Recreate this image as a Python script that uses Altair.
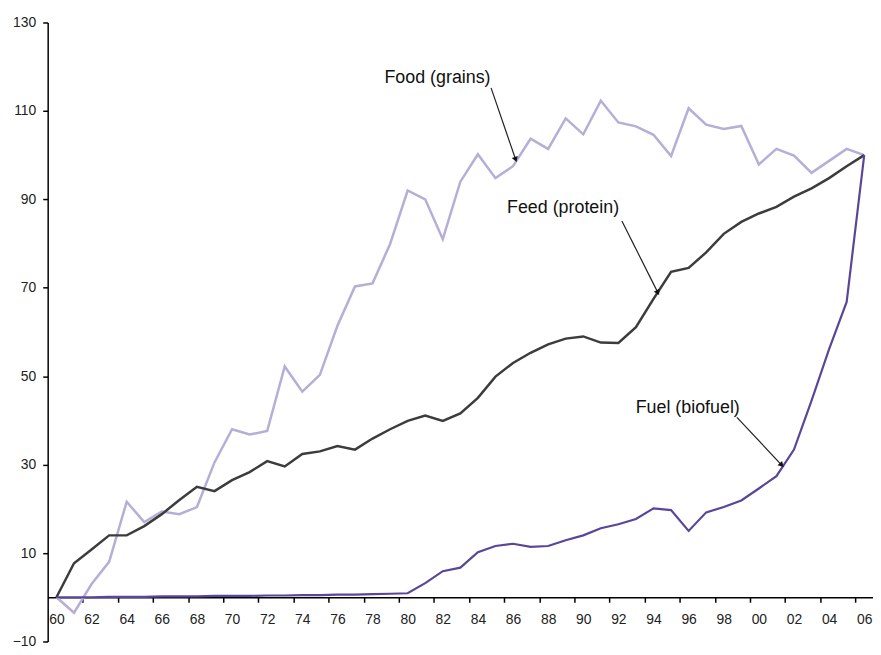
import altair as alt
import pandas as pd

# ---------------- data ----------------
years = list(range(1960, 2007))

food = [0, -3.5, 3, 8, 21.6, 17, 19.4, 18.8, 20.4, 30.5,
        38, 36.8, 37.6, 52.2, 46.5, 50.3, 61.4, 70.3, 71, 79.9,
        92, 90, 81, 94, 100.2, 94.8, 97.5, 103.7, 101.4, 108.3,
        104.7, 112.3, 107.4, 106.5, 104.6, 99.8, 110.6, 106.9, 105.9, 106.6,
        97.9, 101.4, 99.9, 96, 98.7, 101.4, 100]

feed = [0, 7.7, 10.8, 14, 14, 16.1, 18.8, 22, 25, 24,
        26.5, 28.3, 30.8, 29.6, 32.4, 33, 34.2, 33.4, 35.9, 38,
        39.9, 41.1, 39.9, 41.6, 45.1, 49.9, 53, 55.3, 57.2, 58.5,
        59, 57.6, 57.5, 61.1, 67.5, 73.6, 74.5, 78, 82.2, 84.9,
        86.8, 88.3, 90.6, 92.5, 94.8, 97.5, 100]

fuel = [0, 0, 0, 0.1, 0.1, 0.1, 0.2, 0.2, 0.2, 0.3,
        0.3, 0.3, 0.4, 0.4, 0.5, 0.5, 0.6, 0.6, 0.7, 0.8,
        0.9, 3.2, 5.9, 6.7, 10.2, 11.6, 12.1, 11.4, 11.6, 12.9,
        14, 15.6, 16.5, 17.7, 20.1, 19.7, 15, 19.2, 20.4, 21.9,
        24.6, 27.4, 33.4, 44.5, 56.1, 66.8, 100]

series_names = ["Food (grains)", "Feed (protein)", "Fuel (biofuel)"]
series_colors = ["#b6aed6", "#3c3c3c", "#5a4699"]
series_widths = [2.5, 2.5, 2.2]

y_ticks = [-10, 10, 30, 50, 70, 90, 110, 130]
x_label_years = list(range(1960, 2007, 2))
x_tick_marks = [1961.5, 1963.5, 1965.5, 1967.5, 1969.5, 1971.5, 1973.5, 1975.5,
                1977.5, 1979.5, 1981.5, 1983.5, 1985.5, 1987.5, 1989.5, 1991.5,
                1993.5, 1995.5, 1997.5, 1999.5, 2001.5, 2003.5, 2005.5]

# annotations (data coordinates)
ann_text = ["Food (grains)", "Feed (protein)", "Fuel (biofuel)"]
ann_text_x = [1981.7, 1988.85, 1995.95]
ann_text_y = [117.4, 88.0, 42.9]
arrow_x0 = [1984.75, 1992.2, 1998.75]
arrow_y0 = [115.2, 85.1, 40.7]
arrow_x1 = [1986.15, 1994.25, 2001.3]
arrow_y1 = [99.0, 68.9, 29.9]
arrow_angle = [160.9, 152.8, 136.8]

# ---------------- layout ----------------
W, H = 832, 624
FONT = "Liberation Sans"

x_scale = alt.Scale(domain=[1959.5, 2006.5], nice=False, zero=False)
y_scale = alt.Scale(domain=[-10, 130], nice=False, zero=False)

x_axis = alt.Axis(
    values=sorted(x_label_years + x_tick_marks),
    title=None, grid=False, format="d",
    labelExpr="datum.value % 2 == 0 ? substring(datum.label, 2) : ''",
    labelOverlap=False, labelFlush=False,
    tickOpacity={"condition": {"test": "datum.value % 2 == 0", "value": 0}, "value": 1},
    offset=-H * 10 / 140,
    tickSize=5, tickColor="black", tickWidth=1.5,
    domainColor="black", domainWidth=1.5,
    labelFont=FONT, labelFontSize=14, labelColor="#222", labelPadding=10,
)
y_axis = alt.Axis(
    values=y_ticks, title=None, grid=False,
    tickSize=5, tickColor="black", tickWidth=1.5,
    domainColor="black", domainWidth=1.5,
    labelFont=FONT, labelFontSize=14, labelColor="#222", labelPadding=7,
)

df = pd.DataFrame({
    "year": years * 3,
    "value": food + feed + fuel,
    "series": [series_names[0]] * len(years) + [series_names[1]] * len(years) + [series_names[2]] * len(years),
})

layers = []
for i, name in enumerate(series_names):
    layers.append(
        alt.Chart(df).transform_filter(alt.datum.series == name)
        .mark_line(strokeWidth=series_widths[i], color=series_colors[i])
        .encode(
            x=alt.X("year:Q", scale=x_scale, axis=x_axis),
            y=alt.Y("value:Q", scale=y_scale, axis=y_axis),
        )
    )

ann = pd.DataFrame({
    "text": ann_text, "tx": ann_text_x, "ty": ann_text_y,
    "x0": arrow_x0, "y0": arrow_y0, "x1": arrow_x1, "y1": arrow_y1,
    "angle": arrow_angle,
})

texts = alt.Chart(ann).mark_text(
    font=FONT, fontSize=18, color="#111", align="center", baseline="middle"
).encode(
    x=alt.X("tx:Q", scale=x_scale, axis=x_axis),
    y=alt.Y("ty:Q", scale=y_scale, axis=y_axis),
    text="text:N",
)

arrows = alt.Chart(ann).mark_rule(color="#222", strokeWidth=1.2).encode(
    x=alt.X("x0:Q", scale=x_scale, axis=x_axis),
    y=alt.Y("y0:Q", scale=y_scale, axis=y_axis),
    x2="x1:Q",
    y2="y1:Q",
)

heads = alt.Chart(ann).mark_point(
    shape="triangle-up", filled=True, size=40, color="#111", opacity=1
).encode(
    x=alt.X("x1:Q", scale=x_scale, axis=x_axis),
    y=alt.Y("y1:Q", scale=y_scale, axis=y_axis),
    angle=alt.Angle("angle:Q", scale=None),
)

chart = alt.layer(*layers, arrows, heads, texts).properties(
    width=W, height=H,
    padding={"left": 40, "top": 12, "right": 0, "bottom": 8},
    autosize="none",
    background="white",
).configure_view(stroke=None)

chart.save("out.html", embed_options={"renderer": "svg", "actions": False})
